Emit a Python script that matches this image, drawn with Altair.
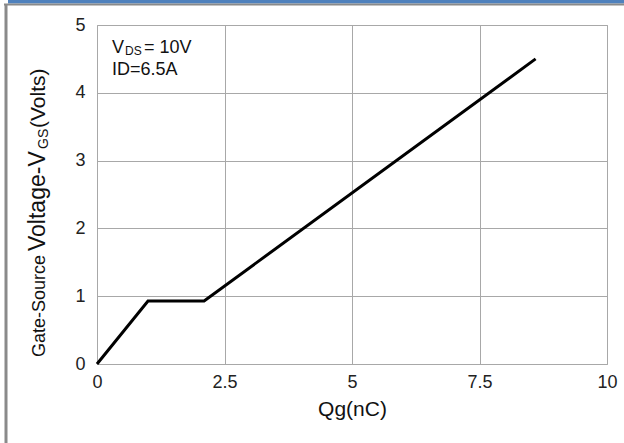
import altair as alt
import pandas as pd

# data
qg = [0, 1.0, 2.1, 8.6]
vgs = [0, 0.93, 0.93, 4.5]
x_ticks = [0, 2.5, 5, 7.5, 10]
y_ticks = [0, 1, 2, 3, 4, 5]

df = pd.DataFrame({"qg": qg, "vgs": vgs})

W, H = 510, 339
PL, PT = 97, 25
FONT = "Liberation Sans"

xscale = alt.Scale(domain=[0, 10], nice=False, zero=False)
yscale = alt.Scale(domain=[0, 5], nice=False, zero=False)

line = alt.Chart(df).mark_line(color="black", strokeWidth=3, clip=False).encode(
    x=alt.X("qg:Q", scale=xscale,
            axis=alt.Axis(values=x_ticks, title="Qg(nC)", labelExpr="datum.value + ''",
                          tickSize=0, domain=False, labelPadding=9, labelFontSize=18,
                          labelColor="#222222", labelFont=FONT, titleFont=FONT,
                          titleFontSize=21, titleFontWeight="normal", titleColor="#111111",
                          titlePadding=7, gridColor="#a8a8a8", gridWidth=1, gridOpacity=1,
                          labelFlush=False)),
    y=alt.Y("vgs:Q", scale=yscale,
            axis=alt.Axis(values=y_ticks, title=None, tickSize=0, domain=False,
                          labelPadding=12, labelFontSize=18, labelColor="#222222",
                          labelFont=FONT, gridColor="#a8a8a8", gridWidth=1, gridOpacity=1,
                          labelFlush=False)),
)

def txt(text, x, y, size, angle=0, weight="normal", align="left", baseline="alphabetic"):
    return alt.Chart(pd.DataFrame({"t": [text]})).mark_text(
        font=FONT, fontSize=size, fontWeight=weight, angle=angle, align=align,
        baseline=baseline, color="#111111", clip=False
    ).encode(text="t:N", x=alt.value(x - PL), y=alt.value(y - PT))

# y-axis title pieces (rotated)
ytitle = [
    txt("Gate-Source", 45, 357, 18, angle=270),
    txt("Voltage-V", 45, 251, 23, angle=270),
    txt("GS", 48, 149, 14, angle=270),
    txt("(Volts)", 45, 128, 21, angle=270),
]

# annotation
annot = [
    txt("V", 112, 53, 18),
    txt("DS", 125, 55, 12),
    txt("= 10V", 144, 53, 18),
    txt("ID=6.5A", 112, 75, 18),
]

# frame around the picture
frame_df = pd.DataFrame({"a": [0]})
blue = alt.Chart(frame_df).mark_rule(color="#4f81bd", strokeWidth=4, clip=False).encode(
    x=alt.value(8 - PL), x2=alt.value(624 - PL), y=alt.value(1.5 - PT))
grayh = alt.Chart(frame_df).mark_rule(color="#8a8a8a", strokeWidth=2, clip=False).encode(
    x=alt.value(4 - PL), x2=alt.value(624 - PL), y=alt.value(4.5 - PT))
grayv = alt.Chart(frame_df).mark_rule(color="#8a8a8a", strokeWidth=3, clip=False).encode(
    x=alt.value(6 - PL), y=alt.value(4 - PT), y2=alt.value(443 - PT))

chart = alt.layer(line, *ytitle, *annot, blue, grayh, grayv).properties(
    width=W, height=H,
    autosize=alt.AutoSizeParams(type="none"),
    padding={"left": PL, "top": PT, "right": 624 - PL - W, "bottom": 443 - PT - H},
    background="white",
).configure_view(stroke="#a8a8a8", strokeWidth=1)

chart.save("out.html", embed_options={"renderer": "svg", "actions": False})
